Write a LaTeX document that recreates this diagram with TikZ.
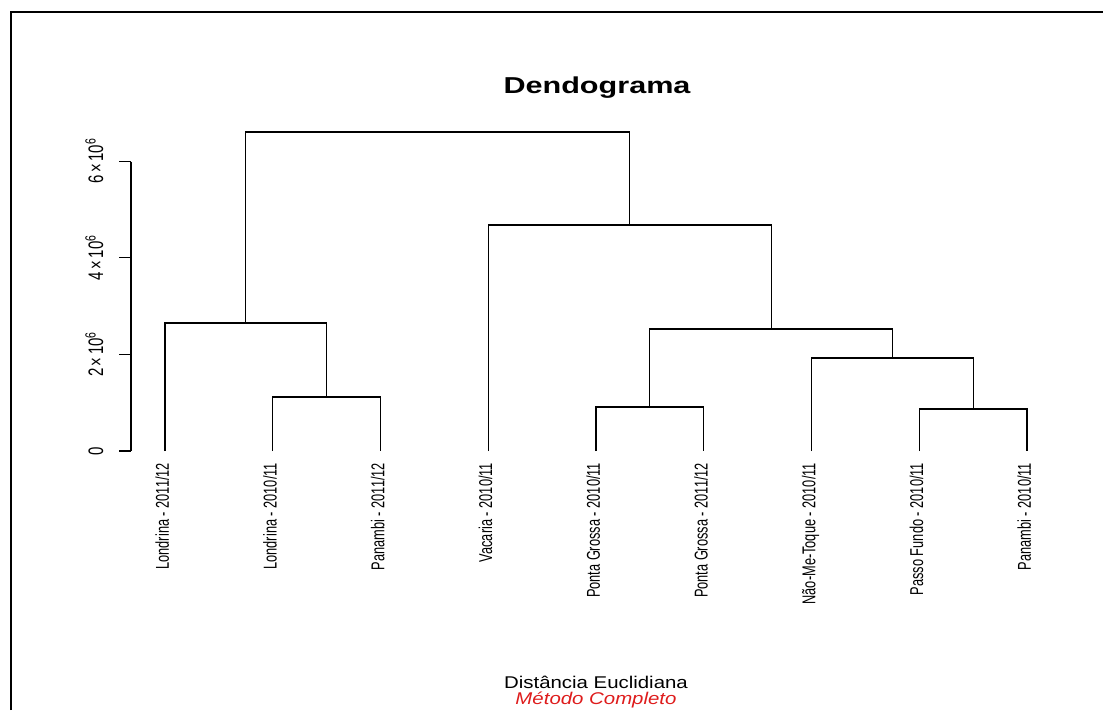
\documentclass[tikz,border=0pt]{standalone}
\usepackage{fontspec}
\setmainfont{Liberation Sans}
\definecolor{metodored}{RGB}{222,28,28}
\begin{document}
\begin{tikzpicture}[
  x=1pt, y=-1pt,
  every node/.style={inner sep=0pt, outer sep=0pt},
  branch/.style={line width=1.1pt},
  frame/.style={line width=2pt},
  leaflabel/.style={rotate=90, yscale=1.45, anchor=mid east,
                    font=\fontsize{12.8}{13}\selectfont},
  ticklabel/.style={rotate=90, yscale=1.4, anchor=base,
                    font=\fontsize{15}{16}\selectfont},
  ]
  \useasboundingbox (0,0) rectangle (1103,710);
  \draw[frame] (11,710) -- (11,12) -- (1103,12);

  % title
  \node[anchor=base, xscale=1.33, font=\bfseries\fontsize{23}{24}\selectfont]
    (titulo) at (597,93) {Dendograma};

  % y axis
  \draw[branch] (131,161.5) -- (131,451);
  \foreach \h/\txt in {0/0, 2/{2\,×\,10\textsuperscript{6}},
                       4/{4\,×\,10\textsuperscript{6}}, 6/{6\,×\,10\textsuperscript{6}}}
  {
    \draw[branch] (119,{451-48.3*\h}) -- (131,{451-48.3*\h});
    \node[ticklabel] (tick\h) at (103,{451-48.3*\h}) {\txt};
  }

  % leaves
  \foreach \name/\txt [count=\i from 0] in {
      lonA/{Londrina - 2011/12}, lonB/{Londrina - 2010/11}, panA/{Panambi - 2011/12},
      vac/{Vacaria - 2010/11}, pgA/{Ponta Grossa - 2010/11}, pgB/{Ponta Grossa - 2011/12},
      nmt/{Não-Me-Toque - 2010/11}, pf/{Passo Fundo - 2010/11}, panB/{Panambi - 2010/11}}
  {
    \coordinate (\name) at ({165+107.75*\i},451);
    \node[leaflabel] (\name-lab) at ({165+107.75*\i},463) {\txt};
  }

  % merges
  \coordinate (m1) at (326.6,397);
  \coordinate (m2) at (245.8,323);
  \coordinate (m3) at (649.9,407);
  \coordinate (m4) at (973.1,409);
  \coordinate (m5) at (892.3,358);
  \coordinate (m6) at (771.1,329);
  \coordinate (m7) at (629.7,225);
  \coordinate (m8) at (437.7,132);

  \draw[branch] (lonB) |- (m1) -| (panA);
  \draw[branch] (lonA) |- (m2) -| (m1);
  \draw[branch] (pgA) |- (m3) -| (pgB);
  \draw[branch] (pf) |- (m4) -| (panB);
  \draw[branch] (nmt) |- (m5) -| (m4);
  \draw[branch] (m3) |- (m6) -| (m5);
  \draw[branch] (vac) |- (m7) -| (m6);
  \draw[branch] (m2) |- (m8) -| (m7);

  % bottom texts
  \node[anchor=base, xscale=1.2, font=\fontsize{17}{18}\selectfont]
    (distancia) at (596,688.5) {Distância Euclidiana};
  \node[anchor=base, xscale=1.2, text=metodored, font=\itshape\fontsize{17}{18}\selectfont]
    (metodo) at (596,704.5) {Método Completo};
\end{tikzpicture}
\end{document}
